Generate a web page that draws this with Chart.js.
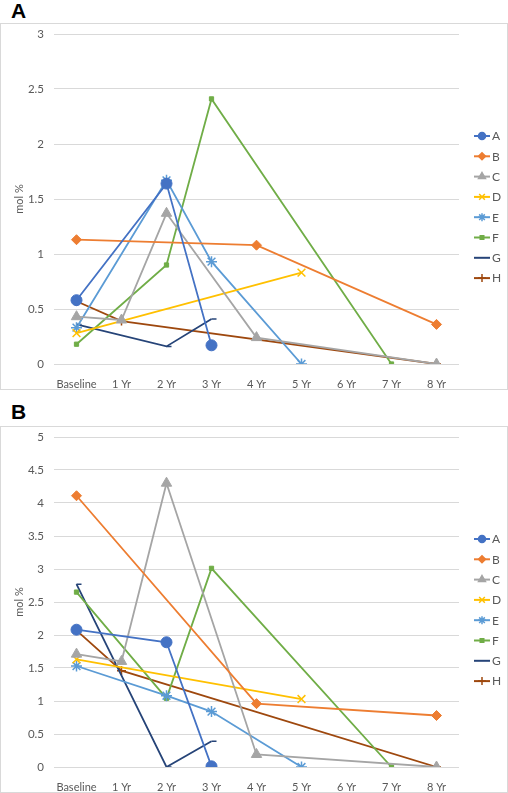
<!DOCTYPE html>
<html>
<head>
<meta charset="utf-8">
<script src="https://cdn.jsdelivr.net/npm/chart.js@4/dist/chart.umd.min.js"></script>
<style>
  html, body { margin: 0; padding: 0; background: #fff; }
  body { width: 508px; height: 793px; position: relative; overflow: hidden; font-family: "Liberation Sans", Arial, sans-serif; }
  .lbl { position: absolute; left: 11px; font-weight: bold; font-size: 21px; line-height: 21px; color: #000; }
  .frame { position: absolute; left: 0; width: 506px; height: 365px; border: 1px solid #d9d9d9; }
  canvas { display: block; }
</style>
</head>
<body>
<div class="lbl" style="top:0px">A</div>
<div class="frame" style="top:23px"><canvas id="cA" width="506" height="365"></canvas></div>
<div class="lbl" style="top:401px">B</div>
<div class="frame" style="top:426px"><canvas id="cB" width="506" height="365"></canvas></div>
<script>
// ---- data ----
const categories = ['Baseline', '1 Yr', '2 Yr', '3 Yr', '4 Yr', '5 Yr', '6 Yr', '7 Yr', '8 Yr'];
const seriesNames = ['A', 'B', 'C', 'D', 'E', 'F', 'G', 'H'];
const yTicksA = [0, 0.5, 1, 1.5, 2, 2.5, 3];
const yTicksB = [0, 0.5, 1, 1.5, 2, 2.5, 3, 3.5, 4, 4.5, 5];

// Panel A (mol %)
const panelA_A = [0.58, null, 1.64, 0.17, null, null, null, null, null];
const panelA_B = [1.13, null, null, null, 1.08, null, null, null, 0.36];
const panelA_C = [0.43, 0.40, 1.37, null, 0.24, null, null, null, 0.00];
const panelA_D = [0.28, null, null, null, null, 0.83, null, null, null];
const panelA_E = [0.33, null, 1.67, 0.93, null, 0.00, null, null, null];
const panelA_F = [0.18, null, 0.90, 2.41, null, null, null, 0.00, null];
const panelA_G = [0.36, null, 0.16, 0.41, null, null, null, null, null];
const panelA_H = [0.57, 0.39, null, null, null, null, null, null, 0.00];

// Panel B (mol %)
const panelB_A = [2.08, null, 1.89, 0.01, null, null, null, null, null];
const panelB_B = [4.11, null, null, null, 0.96, null, null, null, 0.78];
const panelB_C = [1.71, 1.60, 4.30, null, 0.19, null, null, null, 0.00];
const panelB_D = [1.63, null, null, null, null, 1.03, null, null, null];
const panelB_E = [1.53, null, 1.08, 0.84, null, 0.00, null, null, null];
const panelB_F = [2.65, null, 1.04, 3.01, null, null, null, 0.00, null];
const panelB_G = [2.77, null, 0.00, 0.39, null, null, null, null, null];
const panelB_H = [2.07, 1.46, null, null, null, null, null, null, 0.00];

// ---- styles ----
const colors = ['#4472C4', '#ED7D31', '#A5A5A5', '#FFC000', '#5B9BD5', '#70AD47', '#264478', '#9E480E'];
const pstyles = ['circle', 'rectRot', 'triangle', 'crossRot', 'star', 'rect', 'dash', 'cross'];
const pradius = [5.5, 5, 6, 5.5, 5.5, 3, 5, 4.5];
const legRadius = [3.5, 3.5, 4, 4, 4, 2.5, 0, 4];

const FONT = 'Lato, "Open Sans", "Liberation Sans", sans-serif';
const TXT = '#595959';

const legendPlugin = {
  id: 'xlLegend',
  afterDraw(chart) {
    const ctx = chart.ctx;
    const top = chart.chartArea.top + 102;
    const step = 20.3;
    chart.data.datasets.forEach((ds, i) => {
      const y = top + i * step;
      const x0 = 473, x1 = 489;
      ctx.save();
      ctx.strokeStyle = ds.borderColor;
      ctx.lineWidth = 2;
      ctx.beginPath(); ctx.moveTo(x0, y); ctx.lineTo(x1, y); ctx.stroke();
      if (legRadius[i] > 0) {
        ctx.fillStyle = ds.borderColor;
        ctx.strokeStyle = ds.borderColor;
        ctx.lineWidth = 1.5;
        Chart.helpers.drawPoint(ctx, { pointStyle: ds.pointStyle, radius: legRadius[i], rotation: 0, borderWidth: 1.5 }, (x0 + x1) / 2, y);
      }
      ctx.fillStyle = TXT;
      ctx.font = '12px ' + FONT;
      ctx.textBaseline = 'middle';
      ctx.textAlign = 'left';
      ctx.fillText(ds.label, x1 + 2, y + 0.5);
      ctx.restore();
    });
  }
};

function makeChart(id, series, ticks, maxY) {
  const datasets = series.map((arr, i) => ({
    label: seriesNames[i],
    data: arr,
    borderColor: colors[i],
    backgroundColor: colors[i],
    pointStyle: pstyles[i],
    pointRadius: pradius[i],
    pointBorderWidth: (pstyles[i] === 'crossRot' || pstyles[i] === 'star' || pstyles[i] === 'cross' || pstyles[i] === 'dash') ? 1.5 : 1,
    pointHoverRadius: pradius[i],
    borderWidth: 1.8,
    spanGaps: true,
    tension: 0,
    fill: false
  }));
  return new Chart(document.getElementById(id), {
    type: 'line',
    data: { labels: categories, datasets },
    options: {
      responsive: false,
      animation: false,
      events: [],
      layout: { padding: { left: 0, top: 10, right: 48, bottom: 0 } },
      plugins: { legend: { display: false }, tooltip: { enabled: false } },
      scales: {
        x: {
          type: 'category',
          offset: true,
          grid: { display: false },
          border: { display: false },
          ticks: { color: TXT, font: { family: FONT, size: 11 }, padding: 6, maxRotation: 0, autoSkip: false },
          afterFit(s) { s.height = 25; }
        },
        y: {
          min: 0, max: maxY,
          afterBuildTicks(s) { s.ticks = ticks.map(v => ({ value: v })); },
          grid: { color: '#d9d9d9', lineWidth: 1, drawTicks: false },
          border: { display: false },
          ticks: { color: TXT, font: { family: FONT, size: 11.5, lineHeight: 1 }, padding: 10, callback: v => String(v) },
          title: { display: true, text: 'mol %', color: TXT, font: { family: FONT, size: 11 }, padding: { top: 12, bottom: 0 } },
          afterFit(s) { s.width = 53; s.paddingTop = 0; s.paddingBottom = 0; }
        }
      }
    },
    plugins: [legendPlugin]
  });
}

makeChart('cA', [panelA_A, panelA_B, panelA_C, panelA_D, panelA_E, panelA_F, panelA_G, panelA_H], yTicksA, 3);
makeChart('cB', [panelB_A, panelB_B, panelB_C, panelB_D, panelB_E, panelB_F, panelB_G, panelB_H], yTicksB, 5);
</script>
</body>
</html>
